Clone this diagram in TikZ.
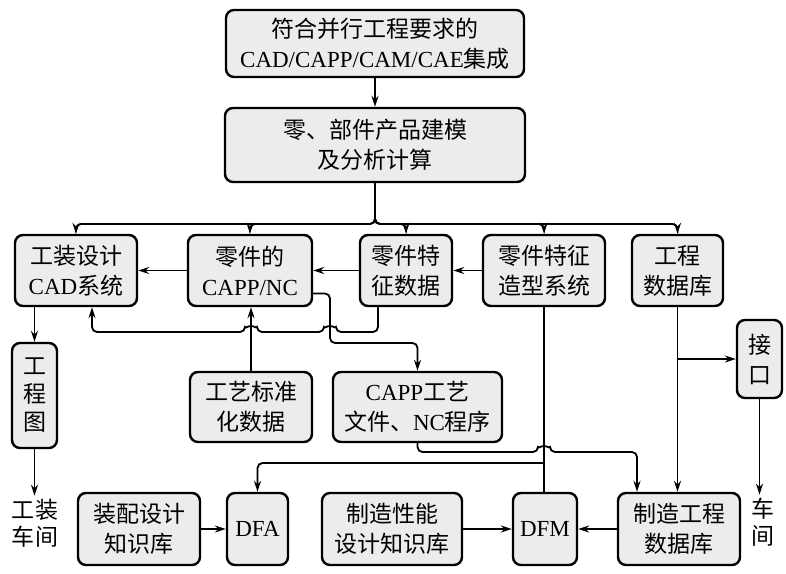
\documentclass[tikz,border=0pt]{standalone}
\usepackage{fontspec}
\setmainfont{Noto Sans CJK SC}
\newfontfamily\lat{Liberation Serif}
\usepackage{xcolor}
\usepackage{tikz}
\usetikzlibrary{arrows.meta,positioning,calc}
\definecolor{boxgray}{RGB}{236,236,236}

\begin{document}
\begin{tikzpicture}[
        x=1pt, y=-1pt,
        font=\fontsize{23}{30}\selectfont,
        block/.style={rectangle, rounded corners=8pt, draw, line width=2.4pt, fill=boxgray, inner sep=1pt, align=center, minimum height=71pt},
        arrow/.style={-{Stealth[length=11pt,width=7pt]}, line width=1.8pt},
        link/.style={line width=1.8pt},
        plain/.style={inner sep=3pt, align=center, font=\fontsize{23}{27}\selectfont}
    ]
        \useasboundingbox (0,0) rectangle (786,573);

        \node[block, minimum width=298pt, minimum height=67pt] (top) at (375,43.5) {符合并行工程要求的\\{\lat CAD/CAPP/CAM/CAE}集成};
        \node[block, below=28.6pt of top, minimum width=300pt, minimum height=74pt] (mod) {零、部件产品建模\\及分析计算};

        % second row
        \node[block, minimum width=122pt] (cad) at (76,270.5) {工装设计\\{\lat CAD}系统};
        \node[block, right=48.6pt of cad, minimum width=124pt] (capp) {零件的\\{\lat CAPP/NC}};
        \node[block, right=45.6pt of capp, minimum width=92pt] (feat) {零件特\\征数据};
        \node[block, right=28.6pt of feat, minimum width=122pt] (fsys) {零件特征\\造型系统};
        \node[block, right=24.6pt of fsys, minimum width=91pt] (edb) {工程\\数据库};

        % third row
        \node[block, minimum width=45pt, minimum height=105pt, font=\fontsize{23}{28}\selectfont] (drw) at (34.5,395.5) {工\\程\\图};
        \node[block, minimum width=122pt, minimum height=70pt] (std) at (251,407) {工艺标准\\化数据};
        \node[block, right=18.6pt of std, minimum width=169pt, minimum height=70pt] (cappf) {{\lat CAPP}工艺\\文件、{\lat NC}程序};
        \node[block, minimum width=45pt, minimum height=78pt] (itf) at (759.5,359) {接\\口};

        % bottom row
        \node[block, minimum width=122pt, minimum height=72pt] (asm) at (139,529) {装配设计\\知识库};
        \node[block, right=24.6pt of asm, minimum width=61pt, minimum height=72pt] (dfa) {\lat DFA};
        \node[block, right=31.6pt of dfa, minimum width=140pt, minimum height=72pt] (mkb) {制造性能\\设计知识库};
        \node[block, right=48.6pt of mkb, minimum width=64pt, minimum height=72pt] (dfm) {\lat DFM};
        \node[block, right=38.6pt of dfm, minimum width=122pt, minimum height=72pt] (medb) {制造工程\\数据库};

        \node[plain] (ws1) at (35,523) {工装\\车间};
        \node[plain] (ws2) at (763,522) {车\\间};

        % bend points
        \coordinate (bus) at (375,224);
        \coordinate (loop) at (0,332);
        \coordinate (jog) at (330,343);
        \coordinate (low1) at (0,452);
        \coordinate (low2) at (0,463);

        \draw[arrow] (top) -- (mod);
        \foreach \t in {cad,capp,feat,fsys,edb}
            \draw[arrow, rounded corners=5pt] (mod.south) |- (\t.north |- bus) -- (\t.north);

        \draw[arrow] (capp) -- (cad);
        \draw[arrow] (feat) -- (capp);
        \draw[arrow] (fsys) -- (feat);

        \draw[arrow, rounded corners=5pt] ([xshift=-28pt]feat.south) |- ([xshift=6pt]jog |- loop)
            arc[start angle=0, end angle=180, radius=6pt] -- ([xshift=6pt]std.north |- loop)
            arc[start angle=0, end angle=180, radius=6pt] -| ([xshift=16pt]cad.south);
        \draw[arrow, rounded corners=5pt] ([yshift=-23pt]capp.east) -| (jog) -| (cappf.north);
        \draw[arrow] (std.north) -- (std.north |- capp.south);

        \draw[arrow] (drw.north |- cad.south) -- (drw.north);
        \draw[arrow] (drw.south) -- (drw.south |- ws1.north);

        \draw[arrow, rounded corners=5pt] (cappf.south) |- ([xshift=-6pt]fsys.south |- low1)
            arc[start angle=180, end angle=0, radius=6pt] -| ([xshift=-42pt]medb.north);
        \draw[link] (fsys.south) -- (fsys.south |- dfm.north);
        \draw[arrow, rounded corners=5pt] (fsys.south |- low2) -| (dfa.north);

        \draw[arrow] (edb.south) -- (edb.south |- medb.north);
        \draw[arrow] (edb.south |- itf.west) -- (itf.west);
        \draw[arrow] (itf.south) -- (itf.south |- ws2.north);

        \draw[arrow] (asm) -- (dfa);
        \draw[arrow] (mkb) -- (dfm);
        \draw[arrow] (medb) -- (dfm);
    \end{tikzpicture}
\end{document}
